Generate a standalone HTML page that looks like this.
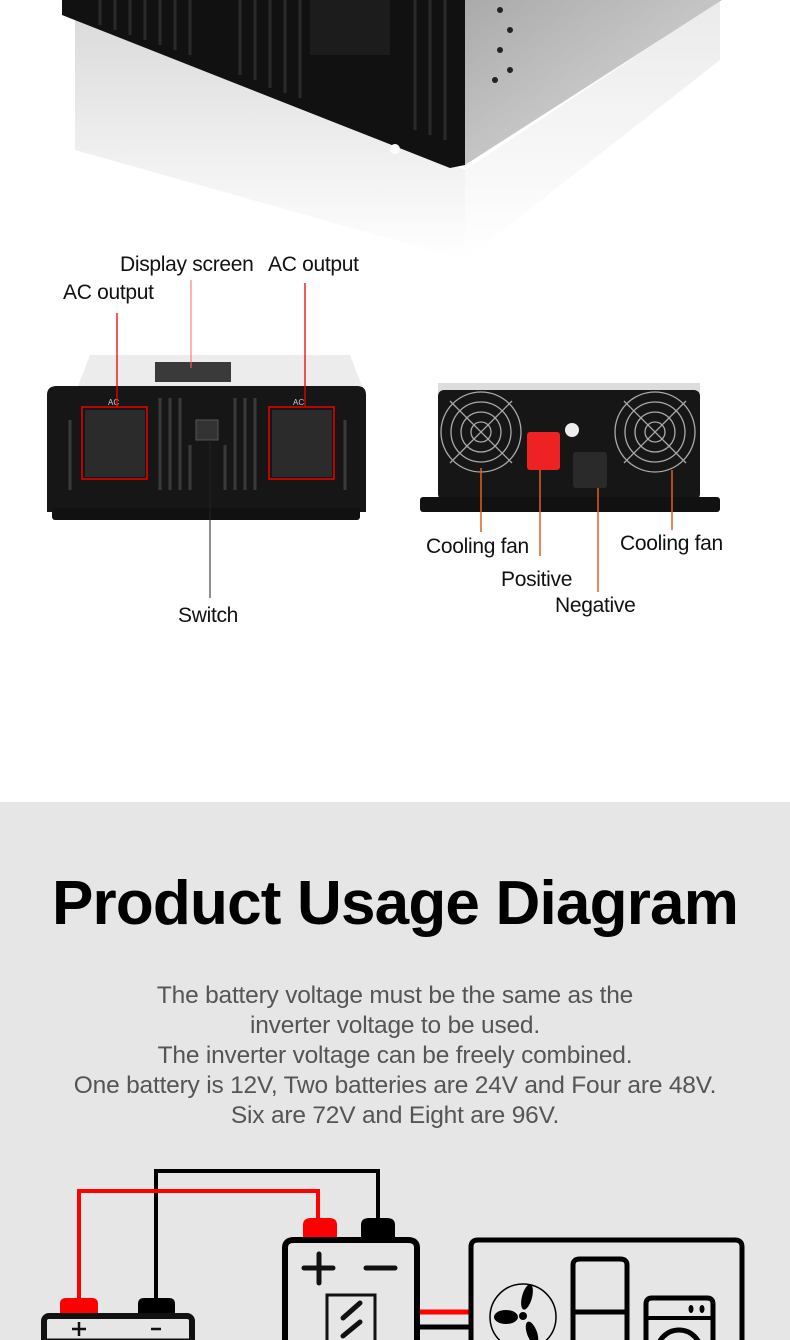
<!DOCTYPE html>
<html><head><meta charset="utf-8"><style>
html,body{margin:0;padding:0;}
body{width:790px;height:1340px;position:relative;overflow:hidden;background:#fff;font-family:"Liberation Sans",sans-serif;}
.l{position:absolute;font-size:21px;color:#111;white-space:nowrap;letter-spacing:-0.3px}
.gray{position:absolute;left:0;top:802px;width:790px;height:538px;background:#e6e6e6;}
h1{position:absolute;left:0;width:790px;top:868px;margin:0;text-align:center;font-size:62px;font-weight:bold;color:#000;letter-spacing:-0.8px}
.p{position:absolute;left:0;width:790px;top:981px;text-align:center;font-size:24.5px;line-height:30px;color:#555;letter-spacing:-0.2px}
svg{position:absolute;left:0;top:0}
</style></head><body>
<svg width="790" height="802">
<defs>
<linearGradient id="rf" x1="0" y1="0" x2="0" y2="1"><stop offset="0" stop-color="#ccc"/><stop offset="1" stop-color="#fff"/></linearGradient>
<linearGradient id="sd" x1="0" y1="0" x2="1" y2="1"><stop offset="0" stop-color="#aaa"/><stop offset="1" stop-color="#e0e0e0"/></linearGradient>
</defs>
<polygon points="75,20 465,170 465,260 75,150" fill="url(#rf)" opacity="0.7"/>
<polygon points="465,170 720,0 720,60 465,260" fill="url(#rf)" opacity="0.4"/>
<polygon points="62,0 465,0 465,165 450,168 62,15" fill="#111"/>
<g stroke="#2a2a2a" stroke-width="3">
<line x1="100" y1="0" x2="100" y2="25"/><line x1="115" y1="0" x2="115" y2="30"/><line x1="130" y1="0" x2="130" y2="35"/><line x1="145" y1="0" x2="145" y2="40"/><line x1="160" y1="0" x2="160" y2="45"/><line x1="175" y1="0" x2="175" y2="50"/><line x1="190" y1="0" x2="190" y2="55"/><line x1="240" y1="0" x2="240" y2="75"/><line x1="255" y1="0" x2="255" y2="80"/><line x1="270" y1="0" x2="270" y2="88"/><line x1="285" y1="0" x2="285" y2="93"/><line x1="300" y1="0" x2="300" y2="98"/>
<line x1="415" y1="0" x2="415" y2="130"/><line x1="430" y1="0" x2="430" y2="135"/><line x1="445" y1="0" x2="445" y2="140"/>
</g>
<rect x="310" y="0" width="80" height="55" fill="#1c1c1c"/>
<circle cx="395" cy="149" r="5" fill="#fff"/><circle cx="65" cy="22" r="3" fill="#fff"/>
<polygon points="465,0 722,0 465,165" fill="url(#sd)"/>
<g fill="#222"><circle cx="500" cy="10" r="3"/><circle cx="510" cy="30" r="3"/><circle cx="500" cy="50" r="3"/><circle cx="510" cy="70" r="3"/><circle cx="495" cy="80" r="3"/></g>
<polygon points="78,386 90,355 350,355 362,386" fill="#ececec"/>
<rect x="155" y="362" width="76" height="20" fill="#3a3a3a"/>
<path d="M47,395 Q47,386 57,386 H357 Q366,386 366,395 V512 H47 Z" fill="#161616"/>
<rect x="52" y="508" width="308" height="12" rx="3" fill="#111"/>
<g stroke="#3a3a3a" stroke-width="3">
<line x1="160" y1="398" x2="160" y2="490"/><line x1="170" y1="398" x2="170" y2="490"/><line x1="180" y1="398" x2="180" y2="490"/><line x1="190" y1="445" x2="190" y2="490"/><line x1="225" y1="445" x2="225" y2="490"/><line x1="235" y1="398" x2="235" y2="490"/><line x1="245" y1="398" x2="245" y2="490"/><line x1="255" y1="398" x2="255" y2="490"/>
<line x1="70" y1="420" x2="70" y2="490"/><line x1="345" y1="420" x2="345" y2="490"/>
</g>
<rect x="85" y="410" width="60" height="67" fill="#2b2b2b"/><rect x="272" y="410" width="60" height="67" fill="#2b2b2b"/>
<rect x="82" y="407" width="65" height="72" fill="none" stroke="#e00" stroke-width="1.5"/>
<rect x="269" y="407" width="65" height="72" fill="none" stroke="#e00" stroke-width="1.5"/>
<rect x="196" y="420" width="22" height="20" fill="#333" stroke="#555"/>
<text x="108" y="405" font-size="8" fill="#ccc">AC</text><text x="293" y="405" font-size="8" fill="#ccc">AC</text>
<rect x="438" y="383" width="262" height="12" fill="#ddd"/>
<rect x="438" y="390" width="262" height="110" rx="6" fill="#161616"/>
<rect x="420" y="497" width="300" height="15" rx="3" fill="#111"/>
<g fill="none" stroke="#aaa" stroke-width="1.3">
<circle cx="481" cy="432" r="40"/><circle cx="481" cy="432" r="30"/><circle cx="481" cy="432" r="20"/><circle cx="481" cy="432" r="10"/>
<line x1="450" y1="401" x2="512" y2="463"/><line x1="512" y1="401" x2="450" y2="463"/>
<circle cx="655" cy="432" r="40"/><circle cx="655" cy="432" r="30"/><circle cx="655" cy="432" r="20"/><circle cx="655" cy="432" r="10"/>
<line x1="624" y1="401" x2="686" y2="463"/><line x1="686" y1="401" x2="624" y2="463"/>
</g>
<rect x="527" y="432" width="33" height="38" rx="3" fill="#e22"/>
<rect x="573" y="452" width="34" height="36" rx="3" fill="#2a2a2a"/>
<circle cx="572" cy="430" r="7" fill="#eee"/>
<line x1="117" y1="313" x2="117" y2="407" stroke="#e00" stroke-width="1.3"/>
<line x1="191" y1="280" x2="191" y2="368" stroke="#f66" stroke-width="1"/>
<line x1="305" y1="283" x2="305" y2="406" stroke="#e00" stroke-width="1.3"/>
<line x1="210" y1="440" x2="210" y2="598" stroke="#222" stroke-width="1"/>
<g stroke="#e06020" stroke-width="1.5">
<line x1="481" y1="468" x2="481" y2="532"/><line x1="540" y1="470" x2="540" y2="556"/><line x1="598" y1="488" x2="598" y2="592"/><line x1="672" y1="470" x2="672" y2="530"/>
</g>
</svg>
<div class="l" style="left:120px;top:253px">Display screen</div>
<div class="l" style="left:268px;top:253px">AC output</div>
<div class="l" style="left:63px;top:281px">AC output</div>
<div class="l" style="left:178px;top:604px">Switch</div>
<div class="l" style="left:426px;top:535px">Cooling fan</div>
<div class="l" style="left:501px;top:568px">Positive</div>
<div class="l" style="left:555px;top:594px">Negative</div>
<div class="l" style="left:620px;top:532px">Cooling fan</div>

<div class="gray"></div>
<h1>Product Usage Diagram</h1>
<div class="p">The battery voltage must be the same as the<br>inverter voltage to be used.<br>The inverter voltage can be freely combined.<br>One battery is 12V, Two batteries are 24V and Four are 48V.<br>Six are 72V and Eight are 96V.</div>

<svg width="790" height="1340">
<polyline points="156,1300 156,1171 378,1171 378,1220" fill="none" stroke="#000" stroke-width="4"/>
<polyline points="79,1300 79,1191 318,1191 318,1220" fill="none" stroke="#f00" stroke-width="4"/>
<path d="M303,1238 V1225 Q303,1218 311,1218 H329 Q337,1218 337,1225 V1238 Z" fill="#f00"/>
<path d="M361,1238 V1225 Q361,1218 369,1218 H387 Q395,1218 395,1225 V1238 Z" fill="#000"/>
<path d="M285,1345 V1248 Q285,1240 294,1240 H408 Q417,1240 417,1248 V1345" fill="none" stroke="#000" stroke-width="6"/>
<g stroke="#111" stroke-width="5" stroke-linecap="round"><line x1="304" y1="1268" x2="333" y2="1268"/><line x1="319" y1="1254" x2="319" y2="1283"/><line x1="366" y1="1268" x2="395" y2="1268"/></g>
<rect x="327" y="1295" width="48" height="60" fill="none" stroke="#111" stroke-width="3"/>
<g stroke="#111" stroke-width="5" stroke-linecap="round"><line x1="343" y1="1318" x2="360" y2="1303"/><line x1="343" y1="1336" x2="360" y2="1322"/></g>
<path d="M60,1314 V1304 Q60,1298 66,1298 H92 Q98,1298 98,1304 V1314 Z" fill="#f00"/>
<path d="M138,1314 V1304 Q138,1298 144,1298 H169 Q175,1298 175,1304 V1314 Z" fill="#000"/>
<rect x="44" y="1316" width="148" height="40" rx="5" fill="none" stroke="#111" stroke-width="6"/>
<line x1="44" y1="1340" x2="192" y2="1340" stroke="#111" stroke-width="3"/>
<g stroke="#111" stroke-width="2.5"><line x1="72" y1="1329" x2="86" y2="1329"/><line x1="79" y1="1322" x2="79" y2="1336"/><line x1="151" y1="1329" x2="161" y2="1329"/></g>
<line x1="420" y1="1312" x2="469" y2="1312" stroke="#f00" stroke-width="5"/>
<line x1="420" y1="1327" x2="469" y2="1327" stroke="#000" stroke-width="5"/>
<path d="M471,1345 V1247 Q471,1240 478,1240 H735 Q742,1240 742,1247 V1345" fill="none" stroke="#000" stroke-width="5"/>
<circle cx="523" cy="1317" r="33" fill="none" stroke="#000" stroke-width="1.5"/>
<circle cx="523" cy="1316" r="4" fill="#000"/>
<ellipse cx="527" cy="1297" rx="5" ry="13" fill="#000" transform="rotate(15 527 1297)"/>
<ellipse cx="506" cy="1317" rx="12" ry="7" fill="#000"/>
<ellipse cx="532" cy="1333" rx="5" ry="12" fill="#000" transform="rotate(-20 532 1333)"/>
<path d="M573,1345 V1265 Q573,1259 580,1259 H620 Q627,1259 627,1265 V1345" fill="none" stroke="#000" stroke-width="5"/>
<line x1="573" y1="1312" x2="627" y2="1312" stroke="#000" stroke-width="5"/>
<path d="M646,1345 V1304 Q646,1298 652,1298 H707 Q713,1298 713,1304 V1345" fill="none" stroke="#000" stroke-width="5"/>
<line x1="646" y1="1318" x2="713" y2="1318" stroke="#000" stroke-width="4"/>
<ellipse cx="691" cy="1309" rx="2.5" ry="4" fill="#000"/><ellipse cx="702" cy="1309" rx="2.5" ry="4" fill="#000"/>
<circle cx="679" cy="1352" r="22" fill="none" stroke="#000" stroke-width="5"/>
</svg>
</body></html>
